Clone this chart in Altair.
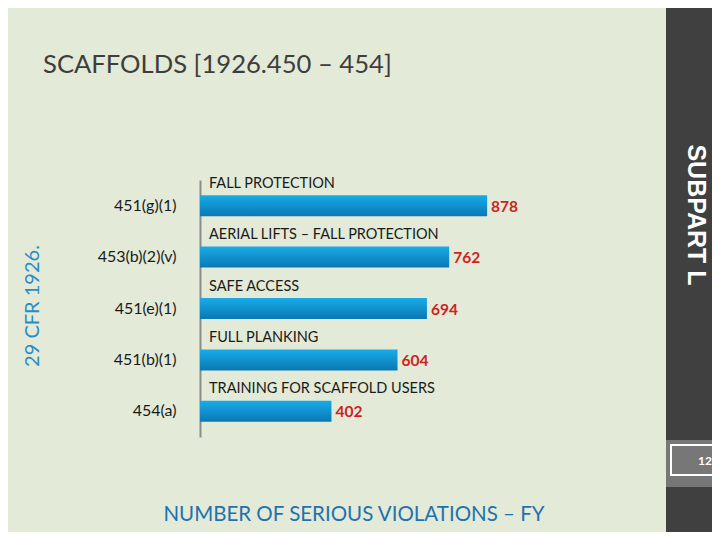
import altair as alt
import pandas as pd

codes = ["451(g)(1)", "453(b)(2)(v)", "451(e)(1)", "451(b)(1)", "454(a)"]
descs = ["FALL PROTECTION", "AERIAL LIFTS – FALL PROTECTION", "SAFE ACCESS",
         "FULL PLANKING", "TRAINING FOR SCAFFOLD USERS"]
values = [878, 762, 694, 604, 402]

title_text = "SCAFFOLDS [1926.450 – 454]"
left_text = "29 CFR 1926."
right_text = "SUBPART L"
bottom_lines = ["NUMBER OF SERIOUS VIOLATIONS – FY", "2014"]
page_no = "12"

FONT = "Lato"
BG = "#E3EAD8"

df = pd.DataFrame({"code": codes, "desc": descs, "value": values})
one = pd.DataFrame({"k": [0]})

yenc = alt.Y("code:N", sort=codes, title=None,
             scale=alt.Scale(paddingInner=0.1),
             axis=alt.Axis(domain=True, domainColor="#8C8C8C", domainWidth=2,
                           ticks=False, labelPadding=24, labelFontSize=16,
                           labelColor="#1A1A1A", labelFont=FONT, grid=False))
xenc = alt.X("value:Q", scale=alt.Scale(domain=[0, 1000]), axis=None)

grad = alt.Gradient(gradient="linear",
                    stops=[alt.GradientStop(color="#18ACE8", offset=0),
                           alt.GradientStop(color="#0A78B4", offset=1)],
                    x1=0, x2=0, y1=0, y2=1)

bars = alt.Chart(df).mark_bar(size=21, color=grad).encode(x=xenc, y=yenc)

vals = alt.Chart(df).mark_text(align="left", baseline="middle", dx=4, dy=1,
                               fontSize=15.5, fontWeight="bold", color="#D01F1F",
                               font=FONT).encode(x=xenc, y=yenc, text="value:Q")

descr = alt.Chart(df).mark_text(align="left", baseline="middle", dy=-22,
                                fontSize=14.5, color="#1A1A1A", font=FONT).encode(
    x=alt.value(9), y=yenc, text="desc:N")

title = alt.Chart(one).mark_text(align="left", baseline="alphabetic", fontSize=25.6,
                                 color="#3D3D3D", font=FONT).encode(
    x=alt.value(-157), y=alt.value(-107), text=alt.value(title_text))

left = alt.Chart(one).mark_text(align="center", baseline="middle", angle=270,
                                fontSize=20, color="#2A8CC4", font=FONT).encode(
    x=alt.value(-167), y=alt.value(126), text=alt.value(left_text))

panel = alt.Chart(one).mark_rect(color="#404040").encode(
    x=alt.value(466), x2=alt.value(512), y=alt.value(-172), y2=alt.value(352))

greybox = alt.Chart(one).mark_rect(color="#777777").encode(
    x=alt.value(466), x2=alt.value(512), y=alt.value(260), y2=alt.value(307))

outline = alt.Chart(one).mark_rect(fill="#777777", stroke="white", strokeWidth=2).encode(
    x=alt.value(471), x2=alt.value(516), y=alt.value(265), y2=alt.value(295))

pnum = alt.Chart(one).mark_text(align="right", baseline="middle", fontSize=12,
                                fontWeight="bold", color="white", font=FONT).encode(
    x=alt.value(512), y=alt.value(281), text=alt.value(page_no))

right = alt.Chart(one).mark_text(align="center", baseline="middle", angle=90,
                                 fontSize=25, fontWeight="bold", color="white",
                                 font="Liberation Sans").encode(
    x=alt.value(496), y=alt.value(35), text=alt.value(right_text))

bottom1 = alt.Chart(one).mark_text(align="center", baseline="alphabetic", fontSize=20.5,
                                   color="#1F72AE", font=FONT).encode(
    x=alt.value(154), y=alt.value(341), text=alt.value(bottom_lines[0]))
bottom2 = alt.Chart(one).mark_text(align="center", baseline="alphabetic", fontSize=20.5,
                                   color="#1F72AE", font=FONT).encode(
    x=alt.value(154), y=alt.value(371), text=alt.value(bottom_lines[1]))

chart = alt.layer(panel, greybox, outline, pnum, right, title, left,
                  bars, vals, descr, bottom1, bottom2).properties(
    width=327, height=257,
    autosize=alt.AutoSizeParams(type="none"),
    padding={"left": 192, "top": 172, "right": 185, "bottom": 95},
    background=BG,
).configure_view(stroke=None)

chart.save("out.html", embed_options={"renderer": "svg", "actions": False})
